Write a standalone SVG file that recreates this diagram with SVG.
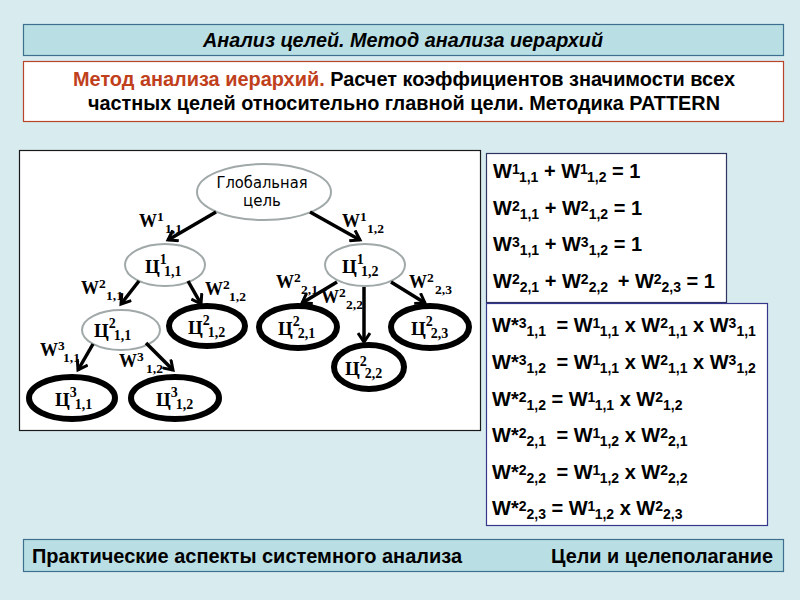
<svg xmlns="http://www.w3.org/2000/svg" width="800" height="600" viewBox="0 0 800 600">
<defs>
<style>
.hdr{font-family:"Liberation Sans",Arial,sans-serif;font-weight:bold;fill:#000}
.eq{font-family:"Liberation Sans",Arial,sans-serif;font-weight:bold;font-size:20px;fill:#000}
.eq .s{font-size:14px}
.wl{font-family:"Liberation Serif","Times New Roman",serif;font-weight:bold;font-size:18px;fill:#000}
.wl .s{font-size:13.5px}
.nl{font-family:"Liberation Serif","Times New Roman",serif;font-weight:bold;font-size:19px;fill:#000}
.nl .s{font-size:14px}
.soft{fill:#fff;stroke:#a0a8a8;stroke-width:2}
.hard{fill:#fff;stroke:#000;stroke-width:6}
.conn line{stroke:#000;stroke-width:3.5;marker-end:url(#ah)}
</style>
<marker id="ah" markerUnits="userSpaceOnUse" markerWidth="14" markerHeight="14" refX="11" refY="7" orient="auto" viewBox="0 0 14 14">
<path d="M2,1 L11,7 L2,13" fill="none" stroke="#000" stroke-width="3"/>
</marker>
</defs>
<rect width="800" height="600" fill="#d8ecef"/>

<g id="title">
<rect x="23.5" y="24.5" width="760" height="31" fill="#b9dfe4" stroke="#3f6f8f" stroke-width="1.2"/>
<text class="hdr" x="203" y="47" font-size="20" font-style="italic" textLength="400" lengthAdjust="spacingAndGlyphs">Анализ целей. Метод анализа иерархий</text>
</g>

<g id="subtitle">
<rect x="23.5" y="61.5" width="760" height="60" fill="#fff" stroke="#b8452a" stroke-width="1.2"/>
<text class="hdr" x="73" y="86" font-size="20" textLength="662" lengthAdjust="spacingAndGlyphs"><tspan fill="#c0401c">Метод анализа иерархий.</tspan> Расчет коэффициентов значимости всех</text>
<text class="hdr" x="88" y="110" font-size="20" textLength="632" lengthAdjust="spacingAndGlyphs">частных целей относительно главной цели. Методика PATTERN</text>
</g>

<g id="diagram-frame">
<rect x="19.5" y="150.5" width="461" height="280" fill="#fff" stroke="#1a1a1a" stroke-width="1.2"/>
</g>

<g id="nodes">
<g id="n-global">
<ellipse class="soft" cx="264" cy="192" rx="67" ry="28"/>
<text font-family="DejaVu Sans,Verdana,sans-serif" font-size="15" fill="#000" text-anchor="middle"><tspan x="262" y="188" textLength="91" lengthAdjust="spacingAndGlyphs">Глобальная</tspan><tspan x="262" y="206">цель</tspan></text>
</g>
<g id="n-c1-11">
<ellipse class="soft" cx="165" cy="265" rx="40" ry="21"/>
<text class="nl" x="145" y="273">Ц<tspan class="s" dy="-9">1</tspan><tspan class="s" dx="-2" dy="12">1,1</tspan></text>
</g>
<g id="n-c1-12">
<ellipse class="soft" cx="365" cy="265" rx="40" ry="21"/>
<text class="nl" x="342" y="273">Ц<tspan class="s" dy="-9">1</tspan><tspan class="s" dx="-2" dy="12">1,2</tspan></text>
</g>
<g id="n-c2-11">
<ellipse class="soft" cx="121" cy="330" rx="39" ry="20"/>
<text class="nl" x="94" y="337">Ц<tspan class="s" dy="-9">2</tspan><tspan class="s" dx="-2" dy="12">1,1</tspan></text>
</g>
<g id="n-c2-12">
<ellipse class="hard" cx="207" cy="326" rx="38" ry="20"/>
<text class="nl" x="188" y="334">Ц<tspan class="s" dy="-9">2</tspan><tspan class="s" dx="-2" dy="12">1,2</tspan></text>
</g>
<g id="n-c2-21">
<ellipse class="hard" cx="298" cy="327" rx="39" ry="21"/>
<text class="nl" x="278" y="335">Ц<tspan class="s" dy="-9">2</tspan><tspan class="s" dx="-2" dy="12">2,1</tspan></text>
</g>
<g id="n-c2-22">
<ellipse class="hard" cx="369" cy="367" rx="35" ry="22"/>
<text class="nl" x="345" y="375">Ц<tspan class="s" dy="-9">2</tspan><tspan class="s" dx="-2" dy="12">2,2</tspan></text>
</g>
<g id="n-c2-23">
<ellipse class="hard" cx="430" cy="327" rx="39" ry="21"/>
<text class="nl" x="411" y="335">Ц<tspan class="s" dy="-9">2</tspan><tspan class="s" dx="-2" dy="12">2,3</tspan></text>
</g>
<g id="n-c3-11">
<ellipse class="hard" cx="72" cy="398" rx="43" ry="21"/>
<text class="nl" x="55" y="406">Ц<tspan class="s" dy="-9">3</tspan><tspan class="s" dx="-2" dy="12">1,1</tspan></text>
</g>
<g id="n-c3-12">
<ellipse class="hard" cx="175" cy="398" rx="44" ry="21"/>
<text class="nl" x="156" y="406">Ц<tspan class="s" dy="-9">3</tspan><tspan class="s" dx="-2" dy="12">1,2</tspan></text>
</g>
</g>

<g id="connectors" class="conn">
<line x1="216" y1="212" x2="168" y2="240"/>
<line x1="310" y1="212" x2="360" y2="240"/>
<line x1="139" y1="281" x2="121" y2="304"/>
<line x1="188" y1="281" x2="201" y2="304"/>
<line x1="337" y1="282" x2="302" y2="303"/>
<line x1="364" y1="287" x2="364" y2="342"/>
<line x1="391" y1="282" x2="425" y2="303"/>
<line x1="93" y1="344" x2="78" y2="370"/>
<line x1="146" y1="343" x2="173" y2="370"/>
</g>

<g id="connector-labels">
<text class="wl"><tspan x="139" y="227">W</tspan><tspan class="s" x="157" y="221">1</tspan><tspan class="s" x="165" y="233">1,1</tspan></text>
<text class="wl"><tspan x="342" y="227">W</tspan><tspan class="s" x="360" y="221">1</tspan><tspan class="s" x="367" y="233">1,2</tspan></text>
<text class="wl"><tspan x="81" y="294">W</tspan><tspan class="s" x="99" y="288">2</tspan><tspan class="s" x="106" y="300">1,1</tspan></text>
<text class="wl"><tspan x="205" y="295">W</tspan><tspan class="s" x="223" y="289">2</tspan><tspan class="s" x="229" y="301">1,2</tspan></text>
<text class="wl"><tspan x="276" y="288">W</tspan><tspan class="s" x="294" y="282">2</tspan><tspan class="s" x="301" y="294">2,1</tspan></text>
<text class="wl"><tspan x="321" y="303">W</tspan><tspan class="s" x="339" y="297">2</tspan><tspan class="s" x="346" y="309">2,2</tspan></text>
<text class="wl"><tspan x="409" y="288">W</tspan><tspan class="s" x="427" y="282">2</tspan><tspan class="s" x="435" y="294">2,3</tspan></text>
<text class="wl"><tspan x="40" y="356">W</tspan><tspan class="s" x="58" y="350">3</tspan><tspan class="s" x="63" y="362">1,1</tspan></text>
<text class="wl"><tspan x="119" y="367">W</tspan><tspan class="s" x="137" y="361">3</tspan><tspan class="s" x="146" y="373">1,2</tspan></text>
</g>

<g id="sums">
<rect x="486.5" y="153.5" width="240" height="149" fill="#fff" stroke="#2e3360" stroke-width="1.2"/>
<text class="eq" x="493" y="178">W<tspan class="s" dy="-4">1</tspan><tspan class="s" dy="8">1,1</tspan><tspan dy="-4"> + W</tspan><tspan class="s" dy="-4">1</tspan><tspan class="s" dy="8">1,2</tspan><tspan dy="-4"> = 1</tspan></text>
<text class="eq" x="493" y="215">W<tspan class="s" dy="-4">2</tspan><tspan class="s" dy="8">1,1</tspan><tspan dy="-4"> + W</tspan><tspan class="s" dy="-4">2</tspan><tspan class="s" dy="8">1,2</tspan><tspan dy="-4"> = 1</tspan></text>
<text class="eq" x="493" y="251">W<tspan class="s" dy="-4">3</tspan><tspan class="s" dy="8">1,1</tspan><tspan dy="-4"> + W</tspan><tspan class="s" dy="-4">3</tspan><tspan class="s" dy="8">1,2</tspan><tspan dy="-4"> = 1</tspan></text>
<text class="eq" x="493" y="288">W<tspan class="s" dy="-4">2</tspan><tspan class="s" dy="8">2,1</tspan><tspan dy="-4"> + W</tspan><tspan class="s" dy="-4">2</tspan><tspan class="s" dy="8">2,2</tspan><tspan dy="-4" dx="4"> + W</tspan><tspan class="s" dy="-4">2</tspan><tspan class="s" dy="8">2,3</tspan><tspan dy="-4"> = 1</tspan></text>
</g>

<g id="products">
<rect x="486.5" y="303.5" width="281" height="222" fill="#fff" stroke="#34378a" stroke-width="1.2"/>
<text class="eq" x="492" y="332">W*<tspan class="s" dy="-4">3</tspan><tspan class="s" dy="8">1,1</tspan><tspan dy="-4" dx="5"> = W</tspan><tspan class="s" dy="-4">1</tspan><tspan class="s" dy="8">1,1</tspan><tspan dy="-4"> x W</tspan><tspan class="s" dy="-4">2</tspan><tspan class="s" dy="8">1,1</tspan><tspan dy="-4"> x W</tspan><tspan class="s" dy="-4">3</tspan><tspan class="s" dy="8">1,1</tspan></text>
<text class="eq" x="492" y="369">W*<tspan class="s" dy="-4">3</tspan><tspan class="s" dy="8">1,2</tspan><tspan dy="-4" dx="5"> = W</tspan><tspan class="s" dy="-4">1</tspan><tspan class="s" dy="8">1,1</tspan><tspan dy="-4"> x W</tspan><tspan class="s" dy="-4">2</tspan><tspan class="s" dy="8">1,1</tspan><tspan dy="-4"> x W</tspan><tspan class="s" dy="-4">3</tspan><tspan class="s" dy="8">1,2</tspan></text>
<text class="eq" x="492" y="406">W*<tspan class="s" dy="-4">2</tspan><tspan class="s" dy="8">1,2</tspan><tspan dy="-4"> = W</tspan><tspan class="s" dy="-4">1</tspan><tspan class="s" dy="8">1,1</tspan><tspan dy="-4"> x W</tspan><tspan class="s" dy="-4">2</tspan><tspan class="s" dy="8">1,2</tspan></text>
<text class="eq" x="492" y="442">W*<tspan class="s" dy="-4">2</tspan><tspan class="s" dy="8">2,1</tspan><tspan dy="-4" dx="5"> = W</tspan><tspan class="s" dy="-4">1</tspan><tspan class="s" dy="8">1,2</tspan><tspan dy="-4"> x W</tspan><tspan class="s" dy="-4">2</tspan><tspan class="s" dy="8">2,1</tspan></text>
<text class="eq" x="492" y="479">W*<tspan class="s" dy="-4">2</tspan><tspan class="s" dy="8">2,2</tspan><tspan dy="-4" dx="5"> = W</tspan><tspan class="s" dy="-4">1</tspan><tspan class="s" dy="8">1,2</tspan><tspan dy="-4"> x W</tspan><tspan class="s" dy="-4">2</tspan><tspan class="s" dy="8">2,2</tspan></text>
<text class="eq" x="492" y="515">W*<tspan class="s" dy="-4">2</tspan><tspan class="s" dy="8">2,3</tspan><tspan dy="-4"> = W</tspan><tspan class="s" dy="-4">1</tspan><tspan class="s" dy="8">1,2</tspan><tspan dy="-4"> x W</tspan><tspan class="s" dy="-4">2</tspan><tspan class="s" dy="8">2,3</tspan></text>
</g>

<g id="footer">
<rect x="23.5" y="539.5" width="760" height="32" fill="#b9dfe4" stroke="#3f6f8f" stroke-width="1.2"/>
<text class="hdr" x="32" y="563" font-size="20" textLength="430" lengthAdjust="spacingAndGlyphs">Практические аспекты системного анализа</text>
<text class="hdr" x="551" y="563" font-size="20" textLength="222" lengthAdjust="spacingAndGlyphs">Цели и целеполагание</text>
</g>
</svg>
